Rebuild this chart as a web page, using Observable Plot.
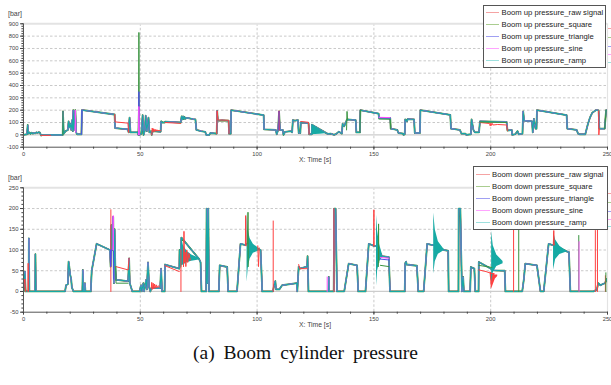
<!DOCTYPE html>
<html><head><meta charset="utf-8">
<script src="https://cdn.jsdelivr.net/npm/d3@7"></script>
<script src="https://cdn.jsdelivr.net/npm/@observablehq/plot@0.6"></script>
<style>
body{margin:0;background:#fff;width:611px;height:385px;position:relative;overflow:hidden;font-family:Arial,"Liberation Sans",sans-serif}
.abs{position:absolute;white-space:nowrap}
.legend{position:absolute;background:#fff;border:1px solid #555;box-sizing:border-box}
.lrow{position:absolute;left:0;height:10px;font-size:7.7px;line-height:10px;color:#222;white-space:nowrap}
.lline{position:absolute;height:1.3px}
.ax{font-size:6.8px;color:#444}
.bar{font-size:7px;color:#444}
.cap{position:absolute;left:0;width:611px;text-align:center;font-family:"Liberation Serif","Times New Roman",serif;font-size:19.5px;word-spacing:4px;color:#111}
</style></head>
<body>
<div id="top" class="abs" style="left:0;top:0"></div>
<div id="bot" class="abs" style="left:0;top:162px"></div>
<script>
// ---------- series names ----------
const upNames = ["Boom up pressure_raw signal","Boom up pressure_square","Boom up pressure_triangle","Boom up pressure_sine","Boom up pressure_ramp"];
const dnNames = ["Boom down pressure_raw signal","Boom down pressure_square","Boom down pressure_triangle","Boom down pressure_sine","Boom down pressure_ramp"];
const traceColors  = ["#ff4040","#3a9440","#5050e8","#ff50ff","#16aaa4"];
const legendColors = ["#f5a3a3","#aacd90","#a0a0f2","#ffa4ff","#9ee0de"];
const xTicks = [0,50,100,150,200,250];
const upYTicks = [-100,0,100,200,300,400,500,600,700,800,900];
const dnYTicks = [-50,0,50,100,150,200,250];

// ---------- Boom up: common trace (ramp, drawn on top) ----------
const upRamp = [[0,0],[0.5,2],[1.5,5],[1.8,80],[2.0,10],[2.5,20],[3,8],[3.5,18],[4,10],[4.5,15],[5,12],[5.5,20],[6,15],[6.5,22],[7,18],[7.3,5],[7.6,-5],[8,0],[16.8,0],[16.9,190],[17.2,10],[18,30],[19,40],[19.3,110],[19.6,60],[20,90],[20.4,40],[20.8,120],[21.1,30],[21.3,200],[21.6,40],[22.2,200],[22.5,20],[23,5],[24.8,5],[25.0,200],[25.5,200],[39.0,165],[39.2,55],[44.7,45],[45.0,20],[45.4,140],[45.8,20],[48.8,20],[49.2,0],[49.4,200],[49.6,0],[50.5,10],[51.0,160],[51.4,0],[52.0,40],[52.3,155],[52.8,30],[53.5,140],[53.9,20],[54.6,30],[54.9,0],[55.3,30],[58.7,25],[58.9,110],[59.5,100],[60.4,100],[60.6,108],[67.3,100],[67.7,150],[68.0,125],[68.3,150],[68.6,128],[68.9,145],[69.3,130],[70,138],[72.5,128],[73.6,125],[74.0,40],[76,30],[77.8,25],[78.2,0],[79.5,0],[80,15],[82.7,10],[82.9,195],[83.2,115],[85,118],[87.8,115],[88,10],[88.7,10],[88.9,200],[102.8,160],[103,45],[108,40],[108.4,5],[109,40],[109.4,190],[109.8,40],[111,40],[111.3,0],[112,25],[114.5,30],[115,20],[115.3,120],[116.2,115],[117.5,120],[117.8,15],[118.5,15],[118.7,100],[122,95],[122.3,5],[123.4,5],[123.5,82],[130.2,8],[131.5,10],[133,0],[134,10],[135,25],[136.3,10],[136.6,90],[137.3,70],[138.5,125],[142.2,120],[142.5,20],[144,20],[144.2,200],[152,172],[152.2,135],[157,135],[157.2,50],[160,40],[160.5,15],[162.5,10],[162.7,0],[163.2,5],[163.4,125],[164.2,110],[164.4,128],[167.2,125],[167.5,15],[169.7,15],[169.9,200],[182.7,162],[183,50],[186.8,40],[187.5,10],[189.2,10],[189.5,0],[191.5,5],[191.8,125],[192.6,40],[193.2,20],[195,20],[195.4,110],[206.8,105],[207.2,35],[209,40],[209.2,0],[210.5,5],[211.5,30],[212,5],[213.6,10],[213.9,190],[214.3,115],[217.7,110],[218,20],[218.5,130],[219.2,50],[219.6,50],[219.8,200],[232.5,160],[232.8,50],[236.8,40],[237.4,10],[238,5],[240.5,5],[241.5,80],[242.5,140],[243.5,180],[245,200],[246,200],[246.2,195],[246.5,50],[247.5,50],[248.8,50],[249.4,200],[250,200]];
// dense oscillation envelope [t, low, high]
const upRampBurst = [[[123.5,0,82],[125,2,62],[127,5,38],[129,9,16],[130.2,8,8]]];
// where the other series leave the common trace
const upRawDiff = [
 [[7.4,-4],[11.6,-4]],
 [[39.0,165],[39.2,105],[44.7,95],[45.0,20]],
 [[54.9,0],[55.1,55],[55.4,22],[55.7,50],[56.0,26],[56.3,46],[56.7,28],[57.1,42],[57.5,30],[58,38],[58.4,32],[58.7,34]],
 [[60.6,100],[67.3,93]],
 [[82.7,10],[82.9,195],[83.2,120],[87.8,118],[88,10]],
 [[109.2,40],[109.4,195],[109.6,40]],
 [[118.7,108],[122,102],[122.3,5]],
 [[195.4,100],[199.5,92],[199.8,72],[200.1,95],[200.4,76],[200.7,92],[201,80],[203,84],[206.8,80],[207.2,35]],
 [[246.2,195],[246.3,0],[246.5,50]]
];
const upSquareDiff = [
 [[16.85,0],[16.9,190]],
 [[49.2,0],[49.4,830],[49.6,0]],
 [[138.3,40],[138.5,190],[138.7,125]],
 [[144,20],[144.2,200],[144.4,198]],
 [[152.2,128],[157,126],[157.2,50]],
 [[195.4,104],[206.8,100]],
 [[248.8,50],[249.4,200]]
];
const upTriangleDiff = [
 [[24.9,5],[25.0,200]],
 [[49.2,0],[49.4,350],[49.6,0]],
 [[109.3,40],[109.4,190]],
 [[152.2,140],[157,138]]
];
const upSineDiff = [
 [[22.1,40],[22.2,200],[22.4,20]],
 [[49.2,0],[49.4,230],[49.6,0]],
 [[152.2,142],[156.9,140]]
];

// ---------- Boom down ----------
const dnRamp = [[0,0],[0.3,30],[0.6,48],[0.9,0],[2.2,0],[2.3,128],[2.5,0],[5.0,0],[5.1,90],[5.3,0],[17.8,0],[18.2,15],[19.0,18],[19.3,72],[19.6,60],[20.0,40],[20.4,30],[20.7,10],[21.4,0],[25.2,0],[25.4,52],[25.6,0],[26.2,0],[26.3,20],[26.5,0],[28.8,0],[29.2,50],[31.3,115],[37.0,100],[37.3,60],[37.6,160],[38.0,100],[38.4,180],[38.7,20],[39.0,150],[39.3,60],[39.6,28],[44.8,25],[45.2,80],[45.5,20],[46.6,0],[49.7,0],[50.3,15],[50.6,0],[51.3,20],[51.6,0],[52.5,28],[52.8,5],[53.3,70],[53.8,10],[54.3,0],[54.7,8],[58.5,8],[58.9,55],[59.3,0],[60.4,0],[60.6,65],[66.7,55],[66.8,100],[67.2,60],[67.6,130],[75.2,78],[75.8,70],[76.2,0],[78.2,0],[78.4,200],[78.7,20],[79.1,200],[79.4,0],[83.6,0],[84.0,63],[87.2,59],[87.6,0],[91.4,0],[92.9,115],[95.0,112],[95.7,115],[101.5,100],[102.2,0],[106.8,0],[107.1,10],[107.8,25],[108.1,5],[109.5,5],[110.7,15],[117.0,20],[117.2,0],[117.8,60],[118.2,55],[121.4,60],[121.6,85],[122.0,0],[130.6,0],[130.7,35],[130.8,0],[132.8,0],[133.0,200],[133.6,200],[134.2,0],[137.3,0],[139.2,67],[142.8,63],[143.3,0],[146.4,0],[147.8,115],[150,110],[151.1,110],[153.5,85],[156.4,83],[156.9,0],[163.2,0],[163.4,68],[163.8,72],[164.0,65],[168.4,62],[169.0,0],[171.3,0],[172.8,115],[175,112],[175.6,112],[180.1,100],[181.8,98],[182.0,0],[186.2,0],[186.3,200],[187.0,200],[187.7,0],[188.2,35],[188.5,0],[191.2,0],[191.5,59],[193.0,55],[193.4,0],[194.8,0],[194.9,71],[201.3,51],[206.0,50],[206.3,0],[213.5,0],[214.2,30],[214.8,67],[219.8,63],[221.3,0],[222.7,0],[224.8,115],[226.5,112],[226.9,112],[232.8,96],[233.5,95],[234.1,0],[244,0],[245.5,5],[246,20],[247,15],[248,18],[249,20],[249.5,30],[250,25]];
const dnRampBurst = [
 [[67.6,62,128],[68.5,64,110],[70,69,97],[72,73,88],[75.2,76,80]],
 [[95.7,22,188],[96.2,55,150],[97.0,78,128],[98.4,92,114],[101.3,99,101]],
 [[151.1,12,185],[151.6,50,145],[152.5,72,112],[153.5,80,92]],
 [[175.6,42,189],[176.3,72,148],[177.6,90,120],[180.0,98,102]],
 [[200.4,22,145],[201.1,45,110],[202.6,60,88],[205.3,67,72]],
 [[226.9,52,145],[227.8,77,124],[229.6,89,109],[232.6,95,97]]
];
const dnRawBurst = [[[199.8,40,48],[200.3,5,45],[201,15,42],[202,30,40],[203,36,40]]];
const dnRawDiff = [
 [[0,0],[0.3,20],[0.6,30],[0.9,0]],
 [[1.9,0],[2.0,68],[2.1,0]],
 [[37.4,0],[37.4,197]],
 [[39.3,60],[39.5,60],[44.8,52],[45.2,80]],
 [[54.7,8],[54.9,22],[55.2,5],[55.5,20],[55.8,6],[56.1,18],[56.4,8],[56.8,16],[57.2,9],[57.7,14],[58.2,10]],
 [[60.6,62],[66.7,48],[67.0,50]],
 [[67.4,0],[67.4,100]],
 [[68.5,60],[68.7,145],[68.9,70],[69.2,95],[69.5,60],[69.9,100],[70.3,70],[70.8,92],[71.4,76]],
 [[95.0,112],[95.1,183],[95.3,110]],
 [[100.3,110],[100.6,60],[100.9,105]],
 [[106.9,0],[106.9,170]],
 [[117.8,65],[118.2,55],[121.4,55]],
 [[132.9,0],[132.9,200]],
 [[149.9,110],[150,197],[150.1,110]],
 [[194.9,52],[198,48],[200,44],[201.5,43]],
 [[209.8,0],[209.8,250]],
 [[226.8,112],[227,147],[227.2,112]],
 [[244.8,0],[244.8,147]],
 [[245.7,0],[245.7,250]],
 [[249.1,0],[249.1,38]]
];
const dnSquareDiff = [
 [[39.5,60],[39.6,20],[44.8,20]],
 [[96.0,115],[96.1,191],[96.2,60]],
 [[151.9,60],[152.0,163],[152.1,70]],
 [[152.8,63],[156.4,60]],
 [[194.9,63],[200.5,58]],
 [[212,0],[212,250]],
 [[237.7,0],[237.7,135]],
 [[249.3,0],[249.3,45]]
];
const dnTriangleDiff = [
 [[37.25,100],[37.3,60],[37.6,100]],
 [[38.4,180],[38.6,30]],
 [[152.8,78],[156.4,76]]
];
const dnSineDiff = [
 [[38.3,100],[38.4,183],[38.5,100]],
 [[130,0],[130,35]],
 [[152.8,82],[156.4,80]],
 [[237.8,0],[237.8,120]]
];

// ---------- helpers ----------
const rows = arr => arr.map(([t,v]) => ({t, v}));
const segRows = segs => segs.flatMap((s,i) => s.map(([t,v]) => ({t, v, seg:i})));
const envRows = segs => segs.flatMap((s,i) => s.map(([t,lo,hi]) => ({t, lo, hi, seg:i})));
const grid = {stroke:"#c9c9c9", strokeOpacity:1, strokeDasharray:"2.5,2"};

function panel(cfg){
  const base = rows(cfg.base);
  const widths = [1.2,1.8,1,1,1.05];
  return Plot.plot({
    width:611, height:cfg.height, marginTop:cfg.mt, marginBottom:cfg.mb, marginLeft:23, marginRight:4,
    x:{domain:[0,250]}, y:{domain:cfg.yDomain},
    style:{fontFamily:"Arial, 'Liberation Sans', sans-serif", fontSize:"5.8px", color:"#444", background:"#fff", overflow:"visible"},
    marks:[
      Plot.gridY(cfg.yTicks.filter(d => d !== 0 && d !== cfg.yDomain[0] && d !== cfg.yDomain[1]), grid),
      Plot.gridX(xTicks.filter(d => d > 0 && d < 250), grid),
      Plot.ruleY([0], {stroke:"#cdcdcd", strokeWidth:1.2}),
      Plot.ruleY([cfg.yDomain[1]], {stroke:"#e3e3e3", strokeWidth:2}),
      Plot.ruleX([250], {stroke:"#e3e3e3", strokeWidth:1.2}),
      ...traceColors.map((c,i) => Plot.line(base, {x:"t", y:"v", stroke:c, strokeWidth:widths[i], clip:true})),
      Plot.areaY(envRows(cfg.redBurst), {x:"t", y1:"lo", y2:"hi", z:"seg", fill:traceColors[0], clip:true}),
      Plot.areaY(envRows(cfg.burst), {x:"t", y1:"lo", y2:"hi", z:"seg", fill:traceColors[4], clip:true}),
      ...cfg.diffs.map((d,i) => Plot.line(segRows(d), {x:"t", y:"v", z:"seg", stroke:traceColors[i], strokeWidth:1, clip:true})),
      Plot.ruleX([0], {stroke:"#555"}),
      Plot.ruleY([cfg.yDomain[0]], {stroke:"#555"}),
      Plot.axisY({ticks:cfg.yMinor, tickSize:1.6, tickFormat:() => "", label:null}),
      Plot.axisY({ticks:cfg.yTicks, tickSize:3, tickPadding:2, tickFormat:d => String(d), label:null}),
      Plot.axisX({ticks:d3.range(0,251,10), tickSize:2, tickFormat:() => "", label:null}),
      Plot.axisX({ticks:xTicks, tickSize:3, tickPadding:cfg.xPad, tickFormat:d => String(d), label:null})
    ]
  });
}

document.getElementById("top").append(panel({
  height:162, mt:23.3, mb:15.3, yDomain:[-100,900], yTicks:upYTicks, yMinor:d3.range(-100,901,20), xPad:1.5,
  base:upRamp, burst:upRampBurst, redBurst:[],
  diffs:[upRawDiff, upSquareDiff, upTriangleDiff, upSineDiff]
}));
document.getElementById("bot").append(panel({
  height:170, mt:25.3, mb:20.3, yDomain:[-50,250], yTicks:dnYTicks, yMinor:d3.range(-50,251,10), xPad:2,
  base:dnRamp, burst:dnRampBurst, redBurst:dnRawBurst,
  diffs:[dnRawDiff, dnSquareDiff, dnTriangleDiff, dnSineDiff]
}));

// ---------- text labels ----------
function addText(txt, cls, left, top, center){
  const d = document.createElement("div");
  d.className = "abs " + cls; d.textContent = txt;
  d.style.left = left + "px"; d.style.top = top + "px";
  if (center) d.style.transform = "translateX(-50%)";
  document.body.append(d);
}
addText("[bar]", "bar", 8, 9.5);
addText("[bar]", "bar", 8, 173.5);
addText("X: Time [s]", "ax", 315, 155.5, true);
addText("X: Time [s]", "ax", 315, 321, true);

// ---------- legends ----------
function legend(names, left, top, w, h, firstRow, lineX, lineW, textX){
  const box = document.createElement("div");
  box.className = "legend";
  Object.assign(box.style, {left:left+"px", top:top+"px", width:w+"px", height:h+"px"});
  names.forEach((n,i) => {
    const r = document.createElement("div");
    r.className = "lrow"; r.style.top = (firstRow + 12*i - 5) + "px";
    const l = document.createElement("div");
    l.className = "lline";
    Object.assign(l.style, {left:lineX+"px", width:lineW+"px", top:"4.5px", background:legendColors[i]});
    const t = document.createElement("div");
    t.className = "abs"; t.style.left = textX + "px"; t.style.top = "0px"; t.textContent = n;
    r.append(l, t); box.append(r);
  });
  document.body.append(box);
}
legend(upNames, 483, 5, 123, 63, 6.5, 2, 13, 17.5);
legend(dnNames, 473, 166, 135, 64, 7.5, 2, 14, 18);

// clipped second legend's colour marks at the right edge
const edgeUp = [28.3,37.7,46.7,54,62.7];
const edgeDn = [193.3,202.3,211.7,219.3,226.7];
[edgeUp, edgeDn].forEach(ys => ys.forEach((y,i) => {
  const m = document.createElement("div");
  Object.assign(m.style, {position:"absolute", left:"608px", top:(y-0.5)+"px", width:"4px", height:"1.2px", background:legendColors[i]});
  document.body.append(m);
}));

// caption
const cap = document.createElement("div");
cap.className = "cap"; cap.style.top = "342px"; cap.textContent = "(a) Boom cylinder pressure";
document.body.append(cap);
</script>
</body></html>
